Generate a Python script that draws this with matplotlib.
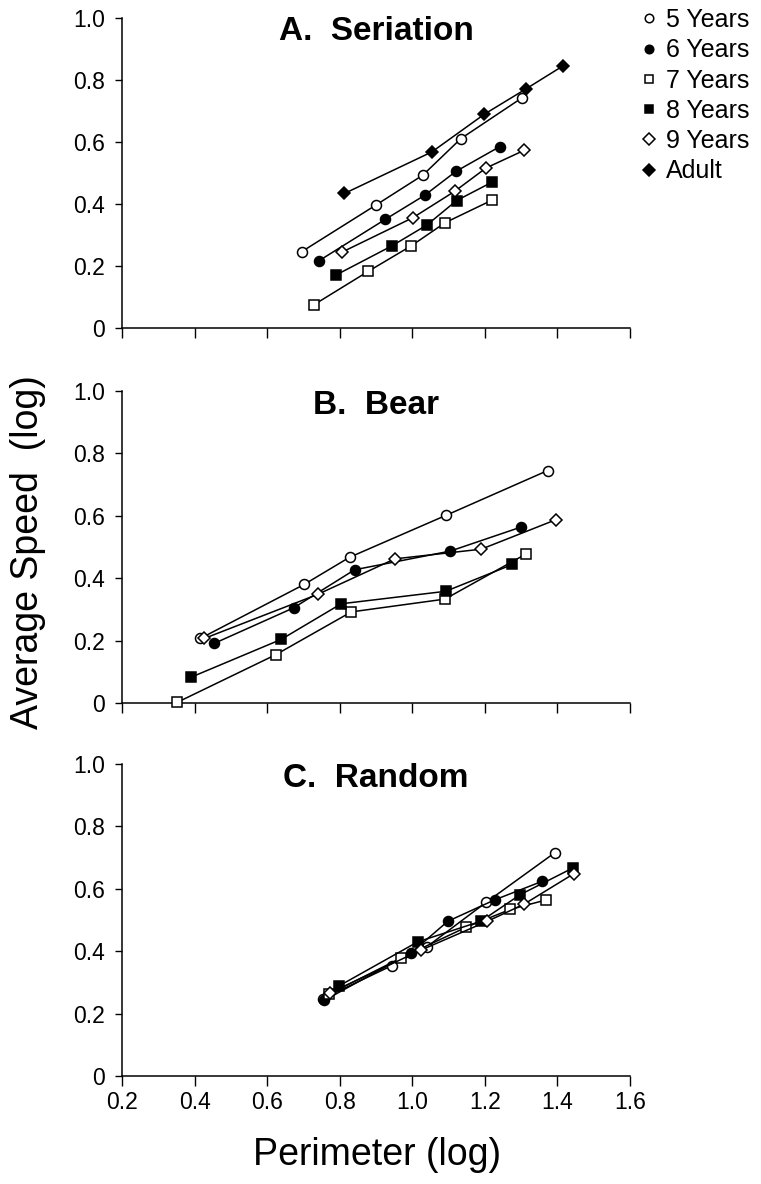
import matplotlib
matplotlib.use("Agg")
import matplotlib.pyplot as plt
from matplotlib.lines import Line2D

plt.rcParams['font.family'] = ['Liberation Sans', 'DejaVu Sans']

# ---------------- data ----------------
groups = ["5 Years", "6 Years", "7 Years", "8 Years", "9 Years", "Adult"]
markers = ["o", "o", "s", "s", "D", "D"]
filled = [False, True, False, True, False, True]

x_ticks = [0.2, 0.4, 0.6, 0.8, 1.0, 1.2, 1.4, 1.6]
x_tick_labels = ["0.2", "0.4", "0.6", "0.8", "1.0", "1.2", "1.4", "1.6"]
y_ticks = [0, 0.2, 0.4, 0.6, 0.8, 1.0]
y_tick_labels = ["0", "0.2", "0.4", "0.6", "0.8", "1.0"]

panel_titles = ["A.  Seriation", "B.  Bear", "C.  Random"]

seriation_x = [
    [0.695, 0.899, 1.029, 1.134, 1.303],
    [0.743, 0.925, 1.034, 1.120, 1.241],
    [0.729, 0.879, 0.997, 1.091, 1.219],
    [0.790, 0.944, 1.040, 1.122, 1.219],
    [0.805, 1.002, 1.117, 1.203, 1.308],
    [0.813, 1.054, 1.199, 1.313, 1.416],
]
seriation_y = [
    [0.246, 0.396, 0.493, 0.611, 0.743],
    [0.217, 0.350, 0.428, 0.505, 0.585],
    [0.075, 0.183, 0.265, 0.340, 0.412],
    [0.171, 0.265, 0.332, 0.411, 0.470],
    [0.244, 0.356, 0.441, 0.516, 0.573],
    [0.434, 0.568, 0.690, 0.771, 0.846],
]

bear_x = [
    [0.416, 0.702, 0.827, 1.092, 1.373],
    [0.454, 0.673, 0.841, 1.105, 1.300],
    [0.352, 0.624, 0.832, 1.090, 1.314],
    [0.389, 0.639, 0.804, 1.092, 1.276],
    [0.427, 0.739, 0.952, 1.190, 1.397],
]
bear_y = [
    [0.207, 0.380, 0.467, 0.601, 0.745],
    [0.191, 0.305, 0.427, 0.487, 0.564],
    [0.002, 0.155, 0.292, 0.333, 0.478],
    [0.082, 0.204, 0.318, 0.358, 0.444],
    [0.207, 0.348, 0.462, 0.493, 0.588],
]

random_x = [
    [0.753, 0.944, 1.040, 1.204, 1.392],
    [0.757, 0.997, 1.098, 1.228, 1.358],
    [0.770, 0.970, 1.149, 1.270, 1.368],
    [0.797, 1.015, 1.189, 1.297, 1.443],
    [0.774, 1.025, 1.207, 1.307, 1.446],
]
random_y = [
    [0.248, 0.354, 0.414, 0.557, 0.715],
    [0.242, 0.395, 0.496, 0.565, 0.624],
    [0.262, 0.379, 0.477, 0.534, 0.564],
    [0.288, 0.430, 0.496, 0.581, 0.667],
    [0.267, 0.404, 0.496, 0.550, 0.649],
]

panels_x = [seriation_x, bear_x, random_x]
panels_y = [seriation_y, bear_y, random_y]

# ---------------- layout ----------------
W, H = 761, 1184
fig = plt.figure(figsize=(W / 100, H / 100), dpi=100)

left_px, right_px = 122, 630
panel_px = [(18, 328), (391, 703), (764, 1076)]  # (top, bottom) pixel rows

ms_map = {"o": 7.2, "s": 6.6, "D": 6.6}

for i, (top, bot) in enumerate(panel_px):
    ax = fig.add_axes([left_px / W, 1 - bot / H, (right_px - left_px) / W, (bot - top) / H])
    ax.set_xlim(0.2, 1.6)
    ax.set_ylim(0, 1.0)
    for s in ["top", "right"]:
        ax.spines[s].set_visible(False)
    for s in ["left", "bottom"]:
        ax.spines[s].set_linewidth(1.1)
    ax.set_xticks(x_ticks)
    ax.set_yticks(y_ticks)
    ax.set_yticklabels(y_tick_labels)
    if i == 2:
        ax.set_xticklabels(x_tick_labels)
    else:
        ax.set_xticklabels([])
    ax.tick_params(axis="x", direction="out", length=7, width=1.0, labelsize=16.5, pad=4)
    ax.tick_params(axis="y", direction="out", length=5, width=1.0, labelsize=16.5, pad=7)
    ax.patch.set_alpha(0)

    xs, ys = panels_x[i], panels_y[i]
    for k in range(len(xs)):
        m = markers[k]
        ax.plot(xs[k], ys[k], color="black", lw=1.1, marker=m,
                ms=ms_map[m], mfc="black" if filled[k] else "white",
                mec="black", mew=1.1, clip_on=False, zorder=3 + k)

    ax.text(0.5, 0.955, panel_titles[i], transform=ax.transAxes, ha="center",
            va="center", fontsize=24, fontweight="bold")

# axis labels
fig.text(28 / W, 1 - 552 / H, "Average Speed  (log)", rotation=90,
         ha="center", va="center", fontsize=27)
fig.text(377 / W, 1 - 1155 / H, "Perimeter (log)", ha="center",
         va="center", fontsize=27)

# legend
handles = [Line2D([], [], linestyle="none", marker=markers[k], ms=ms_map[markers[k]] * 0.85,
                  mfc="black" if filled[k] else "white", mec="black", mew=1.1)
           for k in range(len(groups))]
fig.legend(handles, groups, loc="upper left", bbox_to_anchor=(640 / W, 1 - 8 / H),
           frameon=False, fontsize=18, handlelength=0.7, handletextpad=0.35,
           labelspacing=0.25, borderpad=0.0, borderaxespad=0.0)

fig.savefig("out.png", dpi=100)
